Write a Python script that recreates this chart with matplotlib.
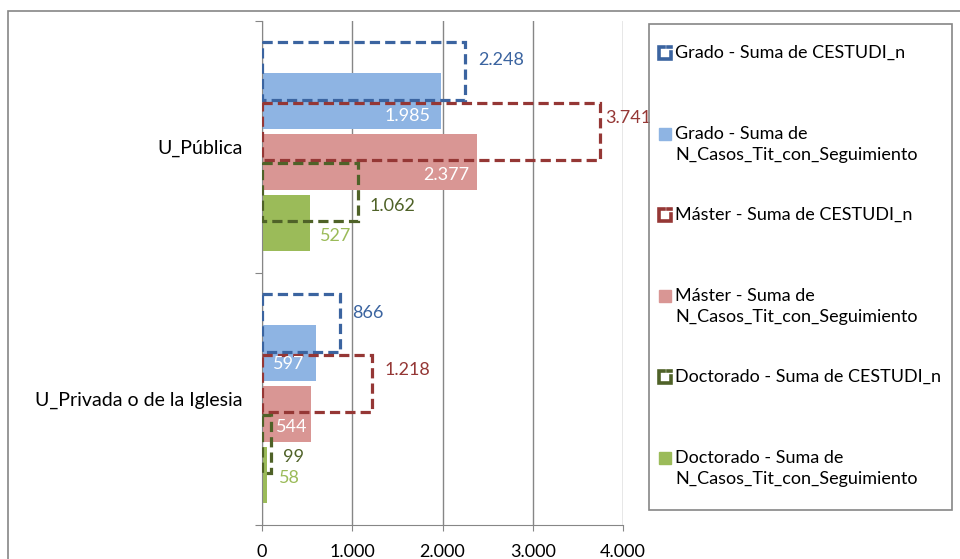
import matplotlib
matplotlib.use('Agg')
import matplotlib.pyplot as plt
from matplotlib.patches import Rectangle
from matplotlib.lines import Line2D

plt.rcParams['font.family'] = ['Lato', 'DejaVu Sans']

categories = ['U_Pública', 'U_Privada o de la Iglesia']
cestudi_grado = [2248, 866]
cestudi_master = [3741, 1218]
cestudi_doct = [1062, 99]
casos_grado = [1985, 597]
casos_master = [2377, 544]
casos_doct = [527, 58]

legend_labels = [
    'Grado - Suma de CESTUDI_n',
    'Grado - Suma de\nN_Casos_Tit_con_Seguimiento',
    'Máster - Suma de CESTUDI_n',
    'Máster - Suma de\nN_Casos_Tit_con_Seguimiento',
    'Doctorado - Suma de CESTUDI_n',
    'Doctorado - Suma de\nN_Casos_Tit_con_Seguimiento',
]

edge_cols = ['#3B64A0', '#953735', '#4F6228']
fill_cols = ['#8EB4E3', '#D99694', '#9BBB59']
fill_label_cols = ['white', 'white', '#8BAE4C']

# label offsets in pixels (dx from bar end, dy from bar centre, +down)
out_offsets = [[(13, -11), (6, -13), (12, 14)],
               [(12, -10), (13, -13), (12, 13)]]
fill_offsets = [[(-11, 15), (-7, 13), (10, 13)],
                [(-11, 11), (-4, 13), (12, 3)]]
fill_ha = [['right', 'right', 'left'], ['right', 'right', 'left']]

W, H = 960, 559
fig = plt.figure(figsize=(W / 100, H / 100), dpi=100)

# outer chart border
fig.patches.append(Rectangle((8 / W, 1 - 600 / H), 1000 / W, (600 - 11) / H,
                             transform=fig.transFigure, fill=False,
                             edgecolor='#868686', lw=1.2))

ax = fig.add_axes([262 / W, 1 - 525 / H, 361 / W, 504 / H])
ax.set_xlim(0, 4000)
ax.set_ylim(1.5, -0.5)

FONT = 13
cestudi = [cestudi_grado, cestudi_master, cestudi_doct]
casos = [casos_grado, casos_master, casos_doct]

for k in range(3):
    ys_fill = [c - 0.182 + k * 0.242 for c in range(len(categories))]
    ys_out = [c - 0.302 + k * 0.240 for c in range(len(categories))]
    ax.barh(ys_fill, casos[k], height=0.222, color=fill_cols[k], zorder=2)
    ax.barh(ys_out, cestudi[k], height=0.228, fill=False,
            edgecolor=edge_cols[k], lw=2.3, linestyle=(0, (3.2, 1.6)), zorder=3)
    for c in range(len(categories)):
        v = cestudi[k][c]
        dx, dy = out_offsets[c][k]
        ax.annotate(f'{v:,}'.replace(',', '.'), (v, ys_out[c]), xytext=(dx, -dy),
                    textcoords='offset pixels', ha='left', va='center',
                    color=edge_cols[k], fontsize=FONT, zorder=5)
        v = casos[k][c]
        dx, dy = fill_offsets[c][k]
        col = fill_label_cols[k] if fill_ha[c][k] == 'right' else fill_cols[k]
        ax.annotate(f'{v:,}'.replace(',', '.'), (v, ys_fill[c]), xytext=(dx, -dy),
                    textcoords='offset pixels', ha=fill_ha[c][k], va='center',
                    color=col, fontsize=FONT, zorder=5)

ax.set_xticks([0, 1000, 2000, 3000, 4000])
ax.set_xticklabels(['0', '1.000', '2.000', '3.000', '4.000'], fontsize=FONT)
ax.xaxis.grid(True, color='#868686', lw=1)
ax.set_axisbelow(True)
ax.set_yticks([-0.5, 0.5, 1.5])
ax.set_yticklabels([])
ax.set_yticks([0, 1], minor=True)
ax.set_yticklabels(categories, minor=True, fontsize=14)
ax.tick_params(axis='y', which='minor', length=0, pad=14)
ax.tick_params(axis='y', which='major', length=5, color='#868686')
ax.tick_params(axis='x', length=4, color='#868686', pad=10)
for s in ['top', 'right']:
    ax.spines[s].set_visible(False)
for s in ['left', 'bottom']:
    ax.spines[s].set_color('#868686')

# legend box drawn by hand
fig.patches.append(Rectangle((649 / W, 1 - 510 / H), 303 / W, 486 / H,
                             transform=fig.transFigure, fill=False,
                             edgecolor='#868686', lw=1.2))
entry_y = [53, 134, 215, 296, 377, 458]
for i, lab in enumerate(legend_labels):
    k = i // 2
    y = entry_y[i]
    if i % 2 == 0:
        x0, x1 = 659, 671
        y0, y1 = y - 6, y + 6
        xs = [x0 + 5, x0, x0, x1, x1]
        ys = [y0, y0, y1, y1, y0 + 5]
        fig.lines.append(Line2D([p / W for p in xs], [1 - p / H for p in ys],
                                transform=fig.transFigure, color=edge_cols[k],
                                lw=2.6, solid_joinstyle='miter'))
        fig.lines.append(Line2D([(x1 - 3) / W, x1 / W], [1 - y0 / H, 1 - y0 / H],
                                transform=fig.transFigure, color=edge_cols[k], lw=2.6))
    else:
        fig.patches.append(Rectangle((659 / W, 1 - (y + 6) / H), 12 / W, 12 / H,
                                     transform=fig.transFigure, color=fill_cols[k]))
    fig.text(675 / W, 1 - (y - 8) / H, lab, ha='left', va='top', fontsize=FONT,
             color='black', linespacing=1.35)

fig.savefig('out.png', dpi=100)
